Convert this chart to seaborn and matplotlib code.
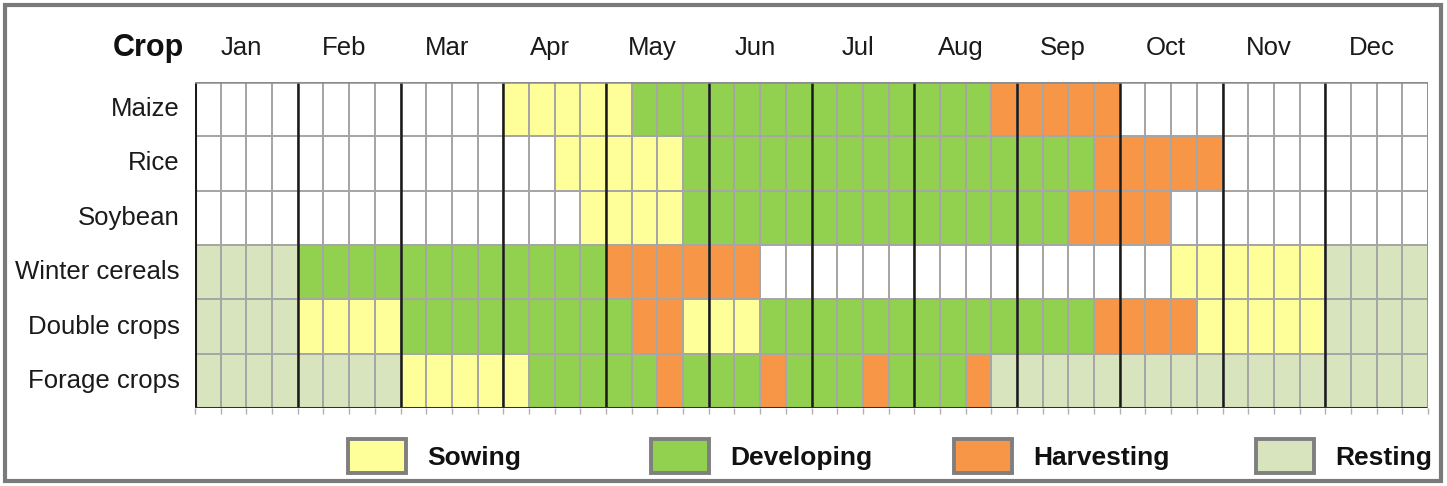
import numpy as np
import pandas as pd
import seaborn as sns
import matplotlib
matplotlib.use("Agg")
import matplotlib.pyplot as plt
from matplotlib.colors import ListedColormap
from matplotlib.patches import Patch, Rectangle

months = ["Jan", "Feb", "Mar", "Apr", "May", "Jun", "Jul", "Aug", "Sep", "Oct", "Nov", "Dec"]
crops = ["Maize", "Rice", "Soybean", "Winter cereals", "Double crops", "Forage crops"]
stages = ["Sowing", "Developing", "Harvesting", "Resting"]

# Weekly stage per month: W=none, S=sowing, D=developing, H=harvesting, R=resting
maize = ["WWWW", "WWWW", "WWWW", "SSSS", "SDDD", "DDDD", "DDDD", "DDDH", "HHHH", "WWWW", "WWWW", "WWWW"]
rice = ["WWWW", "WWWW", "WWWW", "WWSS", "SSSD", "DDDD", "DDDD", "DDDD", "DDDH", "HHHH", "WWWW", "WWWW"]
soybean = ["WWWW", "WWWW", "WWWW", "WWWS", "SSSD", "DDDD", "DDDD", "DDDD", "DDHH", "HHWW", "WWWW", "WWWW"]
winter_cereals = ["RRRR", "DDDD", "DDDD", "DDDD", "HHHH", "HHWW", "WWWW", "WWWW", "WWWW", "WWSS", "SSSS", "RRRR"]
double_crops = ["RRRR", "SSSS", "DDDD", "DDDD", "DHHS", "SSDD", "DDDD", "DDDD", "DDDH", "HHHS", "SSSS", "RRRR"]
forage_crops = ["RRRR", "RRRR", "SSSS", "SDDD", "DDHD", "DDHD", "DDHD", "DDHR", "RRRR", "RRRR", "RRRR", "RRRR"]

code = {"W": 0, "S": 1, "D": 2, "H": 3, "R": 4}
rows = [maize, rice, soybean, winter_cereals, double_crops, forage_crops]
matrix = np.array([[code[c] for c in "".join(r)] for r in rows])
cols = [f"{m}{w+1}" for m in months for w in range(4)]
df = pd.DataFrame(matrix, index=crops, columns=cols)

colors = ["#FFFFFF", "#FFFF99", "#92D050", "#F79646", "#D7E4BD"]
cmap = ListedColormap(colors)

sns.set_theme(style="white")
plt.rcParams["font.family"] = ["Liberation Sans Narrow", "Liberation Sans", "DejaVu Sans"]

W, H = 1447, 486
fig = plt.figure(figsize=(W / 100, H / 100), dpi=100)
ax = fig.add_axes([195 / W, (H - 408) / H, (1428 - 195) / W, (408 - 82) / H])

sns.heatmap(df, ax=ax, cmap=cmap, vmin=-0.5, vmax=4.5, cbar=False,
            linewidths=1.3, linecolor="#A6A6A6")

nweeks = df.shape[1]
for m in range(1, 12):
    ax.axvline(m * 4, color="#1A1A1A", lw=1.8)
ax.axvline(0, color="#1A1A1A", lw=2.2)
ax.axhline(len(crops), color="#303030", lw=2.2)
ax.axhline(0, color="#8C8C8C", lw=1.8)
ax.axvline(nweeks, color="#8C8C8C", lw=1.8)

ax.set_xticks(np.arange(nweeks + 1))
ax.set_xticklabels([])
ax.tick_params(axis="x", bottom=True, length=4, width=1, color="#B0B0B0", pad=0)
ax.set_yticks(np.arange(len(crops)) + 0.5)
ax.set_yticklabels(crops, fontsize=18.5, color="#1A1A1A")
ax.tick_params(axis="y", length=0, pad=11)
ax.set_xlabel("")
ax.set_ylabel("")

for i, m in enumerate(months):
    ax.text(i * 4 + 1.8, -0.62, m, ha="center", va="center", fontsize=18.5, color="#1A1A1A")
ax.text(-0.42, -0.62, "Crop", ha="right", va="center", fontsize=22, fontweight="bold",
        color="#111111")

# legend entries, one per stage
legend_left = [348, 651, 954, 1256]
for stage, c, xl in zip(stages, colors[1:], legend_left):
    h = Patch(facecolor=c, edgecolor="#7F7F7F", linewidth=2.8)
    lg = fig.legend([h], [stage], loc="center left",
                    bbox_to_anchor=(xl / W, (H - 456) / H),
                    frameon=False, handlelength=2.2, handleheight=1.65,
                    handletextpad=0.8, borderpad=0, borderaxespad=0,
                    prop={"size": 19, "weight": "bold"})
    for t in lg.get_texts():
        t.set_color("#111111")

fig.patches.append(Rectangle((5 / W, 5 / H), (1441 - 5) / W, (481 - 5) / H,
                             transform=fig.transFigure, fill=False,
                             edgecolor="#7A7A7A", linewidth=3))

fig.savefig("out.png", dpi=100)
